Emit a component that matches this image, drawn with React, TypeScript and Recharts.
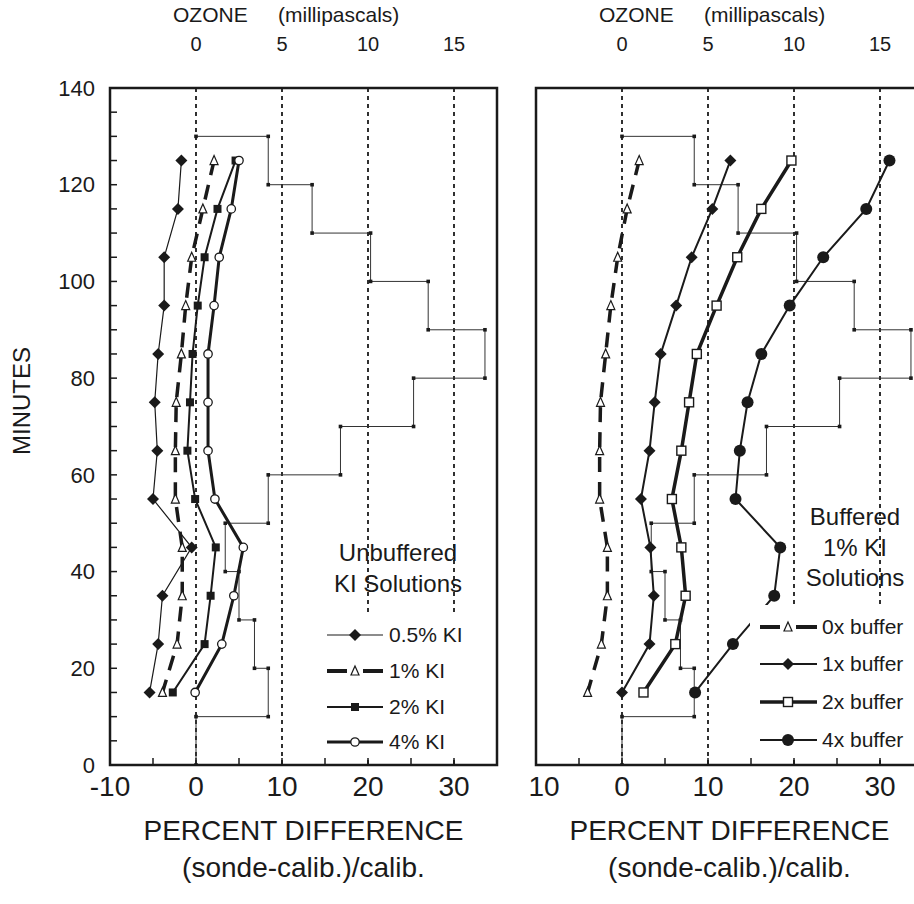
import React from 'react';
import { ScatterChart, Scatter, XAxis, YAxis, ReferenceLine, ReferenceArea, Label } from 'recharts';

const FONT = '"Liberation Sans", Arial, Helvetica, sans-serif';
const INK = '#1a1a1a';

// minutes at which the sondes were read
const MINUTES = [125, 115, 105, 95, 85, 75, 65, 55, 45, 35, 25, 15];

// unbuffered KI solutions, percent difference
const KI_05 = [-1.7, -2.1, -3.7, -3.7, -4.4, -4.8, -4.5, -5.0, -0.5, -3.9, -4.4, -5.4];
const KI_1 = [2.1, 0.8, -0.5, -1.2, -1.7, -2.3, -2.4, -2.4, -1.6, -1.6, -2.2, -3.9];
const KI_2 = [4.6, 2.5, 1.0, 0.2, -0.4, -0.7, -1.0, -0.1, 2.3, 1.7, 1.0, -2.7];
const KI_4 = [5.0, 4.1, 2.7, 2.1, 1.4, 1.4, 1.4, 2.2, 5.5, 4.4, 3.0, -0.1];

// buffered 1% KI solutions
const BUF_0 = [2.0, 0.6, -0.5, -1.3, -1.9, -2.5, -2.6, -2.6, -1.7, -1.7, -2.4, -4.0];
const BUF_1 = [12.6, 10.5, 8.1, 6.3, 4.5, 3.8, 3.2, 2.2, 3.3, 3.7, 3.2, 0.0];
const BUF_2 = [19.7, 16.2, 13.4, 11.0, 8.7, 7.8, 6.9, 5.8, 6.9, 7.4, 6.2, 2.5];
const BUF_4 = [31.1, 28.4, 23.4, 19.5, 16.2, 14.6, 13.7, 13.2, 18.4, 17.7, 12.9, 8.5];

// ozone profile, mPa, one value per 10 minute step (top of step)
const OZ_LEVELS = [130, 120, 110, 100, 90, 80, 70, 60, 50, 40, 30, 20];
const OZ_MPA = [4.2, 6.75, 10.15, 13.5, 16.8, 12.65, 8.4, 4.2, 1.7, 2.5, 3.4, 4.2];

const PCT_TICKS = [-10, -5, 0, 5, 10, 15, 20, 25, 30, 35];
const OZ_TICKS = [0, 5, 10, 15];
const MIN_TICKS = [0, 5, 10, 15, 20, 25, 30, 35, 40, 45, 50, 55, 60, 65, 70, 75, 80, 85, 90, 95, 100, 105, 110, 115, 120, 125, 130, 135, 140];

const toPts = (xs: number[]) => xs.map((x, i) => ({ x, y: MINUTES[i] }));

const STEP = (() => {
  const pts = [{ x: 0, y: OZ_LEVELS[0] }];
  OZ_LEVELS.forEach((top, i) => {
    pts.push({ x: OZ_MPA[i], y: top }, { x: OZ_MPA[i], y: top - 10 });
  });
  pts.push({ x: 0, y: 10 }, { x: 0, y: 0 });
  return pts;
})();

const mk = {
  diamond: (cx: number, cy: number) => (
    <path d={`M${cx},${cy - 6}L${cx + 6},${cy}L${cx},${cy + 6}L${cx - 6},${cy}Z`} fill={INK} />
  ),
  tri: (cx: number, cy: number) => (
    <path d={`M${cx},${cy - 5}L${cx + 4},${cy + 4}L${cx - 4},${cy + 4}Z`} fill="#fff" stroke={INK} strokeWidth={1.2} />
  ),
  sq: (cx: number, cy: number) => <rect x={cx - 4} y={cy - 4} width={8} height={8} fill={INK} />,
  circ: (cx: number, cy: number) => <circle cx={cx} cy={cy} r={4.2} fill="#fff" stroke={INK} strokeWidth={1.3} />,
  osq: (cx: number, cy: number) => (
    <rect x={cx - 4.5} y={cy - 4.5} width={9} height={9} fill="#fff" stroke={INK} strokeWidth={1.4} />
  ),
  dot: (cx: number, cy: number) => <circle cx={cx} cy={cy} r={6} fill={INK} />,
  step: (cx: number, cy: number) => <rect x={cx - 1.8} y={cy - 1.8} width={3.6} height={3.6} fill={INK} />,
};

type Series = { pts: { x: number; y: number }[]; shape: keyof typeof mk; width: number; dash?: string };

const LEFT: Series[] = [
  { pts: toPts(KI_05), shape: 'diamond', width: 1.2 },
  { pts: toPts(KI_1), shape: 'tri', width: 3.5, dash: '15 10' },
  { pts: toPts(KI_2), shape: 'sq', width: 2 },
  { pts: toPts(KI_4), shape: 'circ', width: 3 },
];

const RIGHT: Series[] = [
  { pts: toPts(BUF_0), shape: 'tri', width: 3.5, dash: '15 10' },
  { pts: toPts(BUF_1), shape: 'diamond', width: 2 },
  { pts: toPts(BUF_2), shape: 'osq', width: 3.5 },
  { pts: toPts(BUF_4), shape: 'dot', width: 2 },
];

const txt = { fontFamily: FONT, fill: INK } as const;

const minuteTick = (p: any) =>
  p.payload.value % 20 === 0 ? (
    <text x={p.x} y={p.y} dy="0.35em" textAnchor="end" fontSize={22} {...txt}>
      {p.payload.value}
    </text>
  ) : (
    <g />
  );

// the right panel's "-10" is partly hidden in the original, only "10" shows
const pctTick = (clipMinus: boolean) => (p: any) => {
  const v = p.payload.value;
  if (v % 10 !== 0 || v >= 35) return <g />;
  const cut = clipMinus && v < 0;
  return (
    <text x={cut ? p.x + 8 : p.x} y={p.y} dy="0.35em" textAnchor="middle" fontSize={28} {...txt}>
      {cut ? Math.abs(v) : v}
    </text>
  );
};

const ozTick = (p: any) => (
  <text x={p.x} y={p.y} dy="0.35em" textAnchor="middle" fontSize={20} {...txt}>
    {p.payload.value}
  </text>
);

function Panel({ series, left, width, plotLeft, withMinutes }: {
  series: Series[]; left: number; width: number; plotLeft: number; withMinutes: boolean;
}) {
  const plotW = 387;
  const cx = plotLeft + plotW / 2;
  return (
    <div style={{ position: 'absolute', left, top: 0 }}>
      <ScatterChart
        width={width}
        height={904}
        margin={{ top: 28, right: width - plotLeft - plotW, bottom: 0, left: withMinutes ? plotLeft - 60 : plotLeft }}
      >
        <XAxis
          xAxisId="pct" dataKey="x" type="number" domain={[-10, 35]} ticks={PCT_TICKS} interval={0}
          allowDataOverflow orientation="bottom" height={139} axisLine={false}
          tickSize={-7} tickMargin={28} tickLine={{ stroke: INK, strokeWidth: 1.5 }} tick={pctTick(!withMinutes)}
        >
          <Label
            content={() => (
              <g>
                <text x={cx} y={830} dy="0.35em" textAnchor="middle" fontSize={28} {...txt}>PERCENT  DIFFERENCE</text>
                <text x={cx} y={867} dy="0.35em" textAnchor="middle" fontSize={28} {...txt}>(sonde-calib.)/calib.</text>
              </g>
            )}
          />
        </XAxis>
        <XAxis
          xAxisId="oz" dataKey="x" type="number" domain={[-5, 17.5]} ticks={OZ_TICKS} interval={0}
          allowDataOverflow orientation="top" height={60} axisLine={false} tickLine={false}
          tickSize={0} tickMargin={44} tick={ozTick}
        >
          <Label
            content={() => (
              <g>
                <text x={plotLeft + 63} y={15} dy="0.35em" fontSize={21} {...txt}>OZONE</text>
                <text x={plotLeft + 168} y={15} dy="0.35em" fontSize={21} {...txt}>(millipascals)</text>
              </g>
            )}
          />
        </XAxis>
        <YAxis
          dataKey="y" type="number" domain={[0, 140]} ticks={MIN_TICKS} interval={0} allowDataOverflow
          width={60} hide={!withMinutes} axisLine={false} tickSize={-7} tickMargin={22}
          tickLine={{ stroke: INK, strokeWidth: 1.5 }} tick={minuteTick}
        >
          <Label
            content={() => (
              <text x={22} y={401} dy="0.35em" textAnchor="middle" fontSize={24} transform="rotate(-90 22 401)" {...txt}>
                MINUTES
              </text>
            )}
          />
        </YAxis>
        <ReferenceArea
          xAxisId="pct" x1={-10} x2={35} y1={0} y2={140} fill="none" fillOpacity={0}
          stroke={INK} strokeWidth={2.5} ifOverflow="visible"
        />
        {OZ_TICKS.map((v) => (
          <ReferenceLine key={v} xAxisId="oz" x={v} stroke={INK} strokeWidth={1.8} strokeDasharray="4 4" />
        ))}
        <Scatter
          xAxisId="oz" data={STEP} fill={INK} isAnimationActive={false} lineType="joint"
          line={{ stroke: '#333', strokeWidth: 1 }}
          shape={(p: any) => mk.step(p.cx, p.cy)}
        />
        {series.map((s, i) => (
          <Scatter
            key={i} xAxisId="pct" data={s.pts} fill={INK} isAnimationActive={false} lineType="joint"
            line={{ stroke: INK, strokeWidth: s.width, strokeDasharray: s.dash }}
            shape={(p: any) => mk[s.shape](p.cx, p.cy)}
          />
        ))}
      </ScatterChart>
    </div>
  );
}

type LegendItem = { label: string; shape: keyof typeof mk; width: number; dashed?: boolean };

const LEFT_LEGEND: LegendItem[] = [
  { label: '0.5% KI', shape: 'diamond', width: 1.2 },
  { label: '1% KI', shape: 'tri', width: 4, dashed: true },
  { label: '2% KI', shape: 'sq', width: 2 },
  { label: '4% KI', shape: 'circ', width: 3 },
];

const RIGHT_LEGEND: LegendItem[] = [
  { label: '0x buffer', shape: 'tri', width: 4, dashed: true },
  { label: '1x buffer', shape: 'diamond', width: 2 },
  { label: '2x buffer', shape: 'osq', width: 3.5 },
  { label: '4x buffer', shape: 'dot', width: 2 },
];

function LegendBlock({ items, rows, x1, x2, xm, xl, box }: {
  items: LegendItem[]; rows: number[]; x1: number; x2: number; xm: number; xl: number;
  box: [number, number, number, number];
}) {
  return (
    <g>
      <rect x={box[0]} y={box[1]} width={box[2]} height={box[3]} fill="#fff" />
      {items.map((it, i) => {
        const y = rows[i];
        return (
          <g key={it.label}>
            {it.dashed ? (
              <g stroke={INK} strokeWidth={it.width}>
                <line x1={x1} x2={xm - 8} y1={y} y2={y} />
                <line x1={xm + 8} x2={x2} y1={y} y2={y} />
              </g>
            ) : (
              <line x1={x1} x2={x2} y1={y} y2={y} stroke={INK} strokeWidth={it.width} />
            )}
            {mk[it.shape](xm, y)}
            <text x={xl} y={y} dy="0.35em" fontSize={21} {...txt}>{it.label}</text>
          </g>
        );
      })}
    </g>
  );
}

export default function App() {
  return (
    <div style={{ position: 'absolute', left: 0, top: 0, width: 914, height: 904, overflow: 'hidden', background: '#fff' }}>
      <Panel series={LEFT} left={0} width={520} plotLeft={110} withMinutes />
      <Panel series={RIGHT} left={526} width={400} plotLeft={10} withMinutes={false} />
      <svg width={914} height={904} style={{ position: 'absolute', left: 0, top: 0, pointerEvents: 'none' }}>
        <LegendBlock items={LEFT_LEGEND} rows={[635, 671, 707, 742]} x1={327} x2={383} xm={355} xl={389} box={[300, 613, 195, 144]} />
        <LegendBlock items={RIGHT_LEGEND} rows={[627, 664, 702, 740]} x1={760} x2={817} xm={788} xl={822} box={[750, 605, 164, 152]} />
        <text x={398} y={553} dy="0.35em" textAnchor="middle" fontSize={24} {...txt}>Unbuffered</text>
        <text x={398} y={584} dy="0.35em" textAnchor="middle" fontSize={24} {...txt}>KI Solutions</text>
        <text x={855} y={517} dy="0.35em" textAnchor="middle" fontSize={24} {...txt}>Buffered</text>
        <text x={855} y={548} dy="0.35em" textAnchor="middle" fontSize={24} {...txt}>1% KI</text>
        <text x={855} y={578} dy="0.35em" textAnchor="middle" fontSize={24} {...txt}>Solutions</text>
      </svg>
    </div>
  );
}
